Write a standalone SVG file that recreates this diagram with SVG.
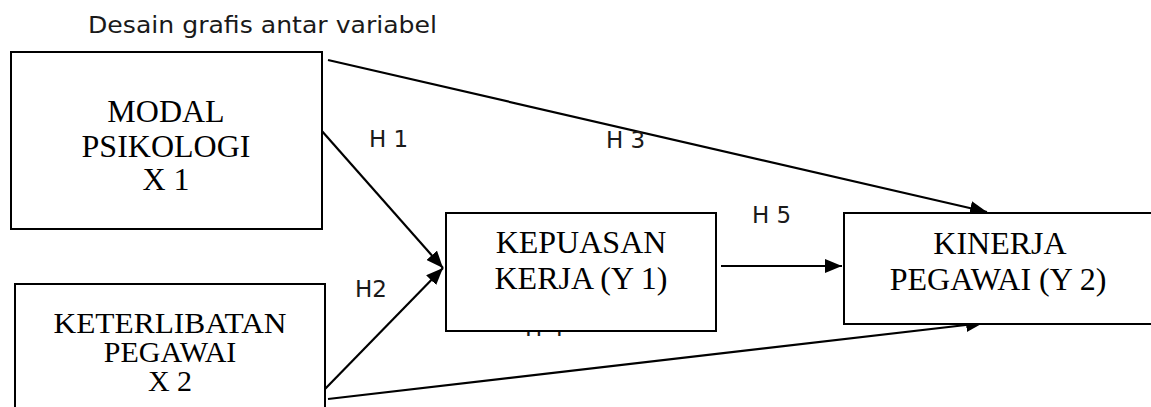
<svg xmlns="http://www.w3.org/2000/svg" width="1151" height="407" viewBox="0 0 1151 407">
<defs>
<style>
.box{fill:#fff;stroke:#000;stroke-width:2}
.bt{font-family:"Liberation Serif","Times New Roman",serif;font-size:32px;fill:#000;text-anchor:middle}
.bs{font-size:30px}
.lb{font-family:"DejaVu Sans","Liberation Sans",sans-serif;font-size:23px;fill:#1a1a1a}
.cn{stroke:#000;stroke-width:2.2;fill:none;marker-end:url(#ah)}
</style>
<marker id="ah" markerUnits="userSpaceOnUse" markerWidth="18" markerHeight="14" refX="17" refY="7" orient="auto">
<path d="M0,0 L17,7 L0,14 z" fill="#000"/>
</marker>
</defs>
<rect width="1151" height="407" fill="#fff"/>
<text class="lb" x="88" y="33" textLength="349" lengthAdjust="spacingAndGlyphs">Desain grafis antar variabel</text>
<text class="lb" x="525" y="336">H 4</text>
<g id="connectors">
<line class="cn" x1="321" y1="130" x2="443" y2="268"/>
<line class="cn" x1="325" y1="389" x2="443" y2="268"/>
<line class="cn" x1="328" y1="60" x2="987" y2="212"/>
<line class="cn" x1="328" y1="399" x2="983" y2="323"/>
<line class="cn" x1="721" y1="266" x2="842" y2="266"/>
</g>
<g id="labels">
<text class="lb" x="369" y="147">H 1</text>
<text class="lb" x="606" y="148">H 3</text>
<text class="lb" x="752" y="223">H 5</text>
<text class="lb" x="355" y="297">H2</text>
</g>
<g id="modal">
<rect class="box" x="11" y="52" width="311" height="177"/>
<text class="bt" x="166" y="122">MODAL</text>
<text class="bt" x="166" y="157">PSIKOLOGI</text>
<text class="bt" x="166" y="190">X 1</text>
</g>
<g id="keterlibatan">
<rect class="box" x="15" y="284" width="310" height="140"/>
<text class="bt bs" x="170" y="333" textLength="233" lengthAdjust="spacingAndGlyphs">KETERLIBATAN</text>
<text class="bt bs" x="170" y="362">PEGAWAI</text>
<text class="bt bs" x="170" y="391">X 2</text>
</g>
<g id="kepuasan">
<rect class="box" x="446" y="213" width="270" height="118"/>
<text class="bt" x="581" y="253">KEPUASAN</text>
<text class="bt" x="581" y="289">KERJA (Y 1)</text>
</g>
<g id="kinerja">
<rect class="box" x="844" y="213" width="320" height="111"/>
<text class="bt" x="1000" y="254">KINERJA</text>
<text class="bt" x="998" y="290">PEGAWAI (Y 2)</text>
</g>
</svg>
